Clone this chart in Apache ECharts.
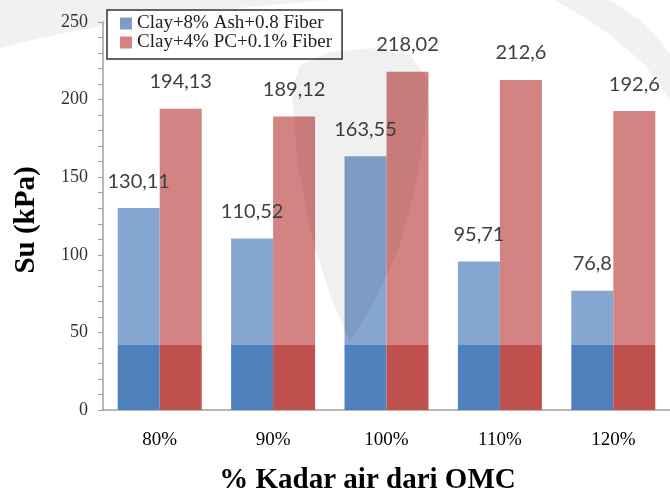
<!DOCTYPE html>
<html>
<head>
<meta charset="utf-8">
<script src="https://cdn.jsdelivr.net/npm/echarts@6/dist/echarts.min.js"></script>
<style>
  html, body { margin: 0; padding: 0; background: #ffffff; }
  #chart { width: 670px; height: 500px; }
</style>
</head>
<body>
<div id="chart"></div>
<script>
// data
const categories = ["80%", "90%", "100%", "110%", "120%"];
const seriesNames = ["Clay+8% Ash+0.8 Fiber", "Clay+4% PC+0.1% Fiber"];
const ashFiber = [130.11, 110.52, 163.55, 95.71, 76.8];
const pcFiber = [194.13, 189.12, 218.02, 212.6, 192.6];
const yTicks = [0, 50, 100, 150, 200, 250];
const baseLevel = 42; // darker lower part of each bar

const chart = echarts.init(document.getElementById("chart"));

// bar colour: light on top, dark below baseLevel
function twoTone(light, dark) {
  return function (p) {
    const split = Math.max(0, 1 - baseLevel / p.value);
    return new echarts.graphic.LinearGradient(0, 0, 0, 1, [
      { offset: 0, color: light },
      { offset: split, color: light },
      { offset: split, color: dark },
      { offset: 1, color: dark },
    ]);
  };
}

const serif = "'Liberation Serif', 'Times New Roman', serif";
const labelStyle = {
  show: true,
  position: "top",
  distance: 17,
  fontFamily: "Lato",
  fontSize: 20,
  color: "#404040",
  formatter: (p) => String(p.value).replace(".", ","),
};

const option = {
  animation: false,
  // faint watermark of the source document
  graphic: [
    {
      type: "polygon", silent: true, z: -10,
      shape: { points: [[0, 0], [330, 0], [260, 6], [180, 14], [100, 26], [40, 38], [0, 48]] },
      style: { fill: "rgba(0,0,0,0.055)" },
    },
    {
      type: "polygon", silent: true, z: -10,
      shape: { points: [[555, 0], [610, 0], [640, 20], [660, 40], [670, 55], [670, 100], [645, 65], [610, 35], [580, 15]] },
      style: { fill: "rgba(0,0,0,0.055)" },
    },
    {
      type: "polygon", silent: true, z: 100,
      shape: {
        points: [[292, 90], [300, 65], [330, 52], [370, 48], [410, 55], [428, 80], [425, 130],
          [415, 190], [398, 250], [375, 300], [350, 342], [330, 295], [310, 230], [297, 160]],
      },
      style: { fill: "rgba(0,0,0,0.06)" },
    },
  ],
  grid: { left: 103, right: -7.5, top: 22, bottom: 85 },
  legend: {
    orient: "vertical",
    left: 107,
    top: 10,
    padding: [4, 10, 7, 13],
    itemGap: 0,
    itemWidth: 12,
    itemHeight: 12,
    borderColor: "#333333",
    borderWidth: 1.5,
    backgroundColor: "#ffffff",
    textStyle: { fontFamily: serif, fontSize: 19, lineHeight: 18, color: "#222222" },
    data: [
      { name: seriesNames[0], icon: "rect", itemStyle: { color: "#7b9dcb" } },
      { name: seriesNames[1], icon: "rect", itemStyle: { color: "#d48282" } },
    ],
  },
  xAxis: {
    type: "category",
    data: categories,
    name: "% Kadar air dari OMC",
    nameLocation: "middle",
    nameGap: 56,
    nameTextStyle: {
      fontFamily: serif, fontSize: 29, fontWeight: "bold", color: "#000000",
      padding: [0, 38, 0, 0],
    },
    axisLine: { lineStyle: { color: "#a0a0a0", width: 1.5 } },
    axisTick: { length: 6, lineStyle: { color: "#a0a0a0" } },
    axisLabel: { margin: 21, fontFamily: serif, fontSize: 19, color: "#000000" },
  },
  yAxis: {
    type: "value",
    min: yTicks[0],
    max: yTicks[yTicks.length - 1],
    interval: 50,
    name: "Su (kPa)",
    nameLocation: "middle",
    nameGap: 62,
    nameTextStyle: {
      fontFamily: serif, fontSize: 29, fontWeight: "bold", color: "#000000",
      padding: [0, 8, 0, 0],
    },
    axisLine: { show: true, lineStyle: { color: "#a0a0a0", width: 1.5 } },
    axisTick: { show: true, length: 5, lineStyle: { color: "#a0a0a0" } },
    minorTick: { show: true, splitNumber: 5, length: 5, lineStyle: { color: "#a0a0a0" } },
    splitLine: { show: false },
    axisLabel: { margin: 15, fontFamily: serif, fontSize: 18, color: "#333333" },
  },
  series: [
    {
      name: seriesNames[0],
      type: "bar",
      data: ashFiber,
      barWidth: 42,
      barGap: "0%",
      itemStyle: { color: twoTone("#85a6d0", "#4f81bd") },
      label: labelStyle,
    },
    {
      name: seriesNames[1],
      type: "bar",
      data: pcFiber,
      barWidth: 42,
      barGap: "0%",
      itemStyle: { color: twoTone("#d48383", "#c0504d") },
      label: labelStyle,
    },
  ],
};

chart.setOption(option);
</script>
</body>
</html>
